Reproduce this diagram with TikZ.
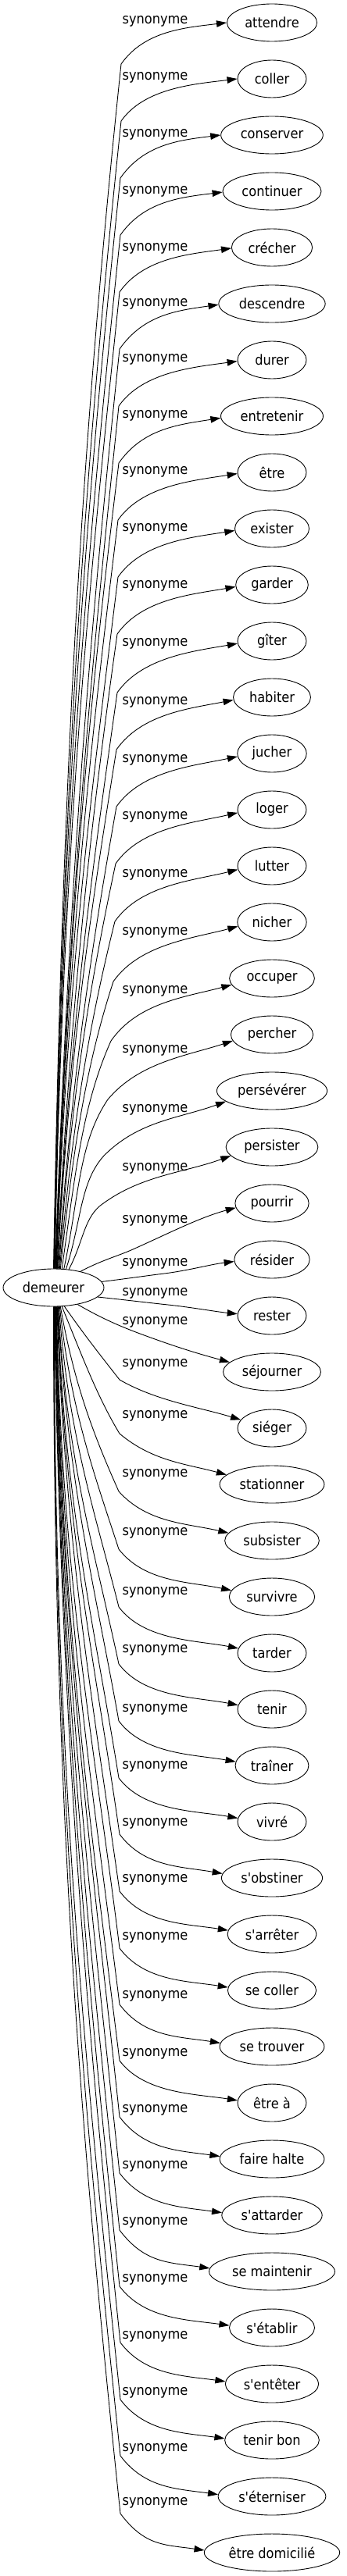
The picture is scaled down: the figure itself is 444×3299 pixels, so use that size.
\documentclass[tikz,border=0pt]{standalone}
\usepackage{fontspec}
\newfontfamily\gvfontfam{DejaVu Sans}[FakeStretch=0.9]
\usetikzlibrary{shapes.geometric,arrows.meta}
\tikzset{
  gvnode/.style={ellipse, draw, line width=0.9pt, inner xsep=6pt, inner ysep=2pt,
    minimum height=48pt, minimum width=88pt, font={\gvfontfam\fontsize{18}{21}\selectfont}},
  gvlbl/.style={inner sep=0pt, font={\gvfontfam\fontsize{18}{21}\selectfont}},
  gvedge/.style={draw, line width=0.9pt, -{Triangle[length=13pt,width=8.5pt]}}
}
\begin{document}
\begin{tikzpicture}[x=1pt,y=1pt]
\useasboundingbox (0,0) rectangle (444,-3299);
\node[gvnode] (src) at (68.5,-1649) {demeurer};
\foreach \i/\txt in {0/attendre,1/coller,2/conserver,3/continuer,4/crécher,5/descendre,6/durer,7/entretenir,8/être,9/exister,10/garder,11/gîter,12/habiter,13/jucher,14/loger,15/lutter,16/nicher,17/occuper,18/percher,19/persévérer,20/persister,21/pourrir,22/résider,23/rester,24/séjourner,25/siéger,26/stationner,27/subsister,28/survivre,29/tarder,30/tenir,31/traîner,32/vivré,33/s'obstiner,34/s'arrêter,35/se coller,36/se trouver,37/être à,38/faire halte,39/s'attarder,40/se maintenir,41/s'établir,42/s'entêter,43/tenir bon,44/s'éterniser,45/être domicilié}{
  \pgfmathsetmacro\yt{29+72*\i}
  \node[gvnode] (t\i) at (348,-\yt) {\txt};
}
\foreach \i/\ly/\a/\ph/\bx/\by/\ti/\tout/\ps/\be in {
0/27.5/90/89/155/82/84/55/7/180,
1/99.5/89/89/155/155/84/55/7/180,
2/172/88/89/154/228/84/55/7/180,
3/245/87/89/154/301/84/55/7/181,
4/318/86/89/153/374/84/55/8/181,
5/389/85/88/153/447/84/55/8/181,
6/460.5/84/88/152/520/84/55/8/182,
7/532/83/88/152/593/83/55/9/182,
8/604.5/82/88/151/666/83/55/9/182,
9/677.6/81/88/151/739/83/55/9/183,
10/750.7/80/87/150/812/82/55/10/183,
11/824/79/87/150/887/82/55/10/184,
12/899.4/78/87/149/960/81/55/11/184,
13/973.5/76/86/149/1033/80/55/12/185,
14/1046.6/74/86/148/1106/78/55/13/185,
15/1120.2/72/85/147/1180/76/55/14/186,
16/1194.3/70/84/145/1257/72/55/15/187,
17/1268.9/66/82/142/1333/66/55/15/189,
18/1345.1/61/78/138/1408/56/50/18/189,
19/1420.9/56/72/133/1480/48/45/20/193,
20/1496/50/62/127/1545/42/38/20/192,
21/1563.8/31/28/170/1600/24/24/15/187,
22/1618.3/7/7/210/1631/7/7/7/183,
23/1655.9/348/-6/215/1671/-6/-6/-6/177,
24/1692.9/325/-30/190/1712/-20/-20/-15/167,
25/1747.5/300/-55/153/1767/-52/-30/-17/165,
26/1813.6/294/-68/153/1836/-59/-40/-15/168,
27/1888.8/290/-80/152/1910/-66/-48/-13/170,
28/1962.9/288/-84/152/1984/-72/-52/-12/171,
29/2039.7/286/-86/152/2058/-76/-53/-11/172,
30/2113.8/284/-87/152/2131/-78/-53/-11/173,
31/2189/283/-87/152/2204/-80/-53/-10/174,
32/2262/282/-88/152/2277/-81/-53/-10/174,
33/2335/281/-88/153/2349/-82/-53/-10/175,
34/2407.6/280/-88/153/2422/-82/-53/-9/175,
35/2481.4/279/-89/153/2495/-83/-53/-9/176,
36/2556.3/278/-89/153/2567/-83/-53/-9/176,
37/2630.1/277/-89/153/2639/-83/-53/-9/176,
38/2702.4/276/-89/153/2711/-84/-53/-8/177,
39/2774.6/275/-89/153/2783/-84/-53/-8/177,
40/2846.3/274/-89/153/2856/-84/-53/-8/177,
41/2919/273/-89/153/2928/-84/-53/-8/177,
42/2992.4/272/-89/154/3000/-84/-53/-8/177,
43/3064.6/272/-90/154/3073/-84/-53/-8/178,
44/3135.8/271/-90/154/3145/-84/-53/-8/178,
45/3205.3/270/-90/154/3219/-84/-53/-8/178}{
  \pgfmathsetmacro\yt{29+72*\i}
  \pgfmathsetmacro\tq{1/sqrt((cos(\a)/63.5)^2+(sin(\a)/23.5)^2)}
  \pgfmathsetmacro\sx{68.5+\tq*cos(\a)}
  \pgfmathsetmacro\sy{1649-\tq*sin(\a)}
  \pgfmathsetmacro\lone{veclen(\bx-\sx,\by-\sy)}
  \pgfmathsetmacro\ltwo{veclen(295-\bx,\yt-\by)}
  \pgfmathsetmacro\lA{0.42*\lone}
  \pgfmathsetmacro\lB{0.3*\lone}
  \pgfmathsetmacro\lC{0.35*\ltwo}
  \pgfmathsetmacro\lD{0.35*\ltwo}
  \pgfmathsetmacro\tin{\ti+180}
  \pgfmathsetmacro\pin{\ps+180}
  \draw[gvedge] (src.\a) .. controls +(\ph:\lA) and +(\tin:\lB) .. (\bx,-\by)
     .. controls +(\tout:\lC) and +(\pin:\lD) .. (t\i.\be);
  \node[gvlbl] (l\i) at (198.5,-\ly) {synonyme};
}
\end{tikzpicture}
\end{document}
